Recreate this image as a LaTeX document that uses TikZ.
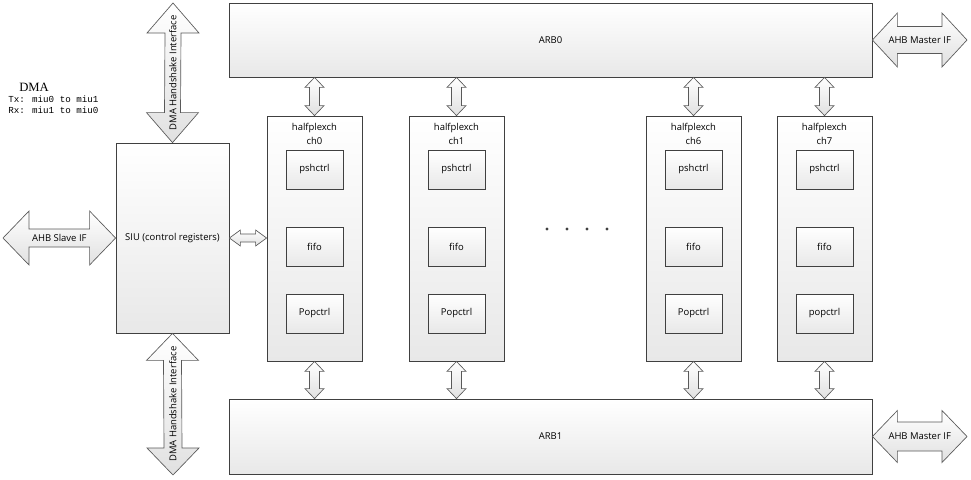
\documentclass[tikz,border=0pt]{standalone}
\usepackage{fontspec}
\setmainfont{Open Sans}
\newfontfamily\dmaserif{Liberation Serif}
\newfontfamily\dmamono{Liberation Mono}
\usetikzlibrary{calc}
\newcommand\vdarrow[5]{% top tip, bottom tip, head half width, shaft half width, head length
  \path[barr] (#1) -- ($(#1)+(#3,#5)$) -- ($(#1)+(#4,#5)$) -- ($(#2)+(#4,-#5)$) -- ($(#2)+(#3,-#5)$) -- (#2)
    -- ($(#2)+(-#3,-#5)$) -- ($(#2)+(-#4,-#5)$) -- ($(#1)+(-#4,#5)$) -- ($(#1)+(-#3,#5)$) -- cycle;}
\newcommand\hdarrow[5]{% left tip, right tip, head half height, shaft half height, head length
  \path[barr] (#1) -- ($(#1)+(#5,-#3)$) -- ($(#1)+(#5,-#4)$) -- ($(#2)+(-#5,-#4)$) -- ($(#2)+(-#5,-#3)$) -- (#2)
    -- ($(#2)+(-#5,#3)$) -- ($(#2)+(-#5,#4)$) -- ($(#1)+(#5,#4)$) -- ($(#1)+(#5,#3)$) -- cycle;}
\begin{document}
\begin{tikzpicture}[x=0.75pt,y=-0.75pt,
  font=\fontsize{7.1}{9}\selectfont,
  sz/.style 2 args={minimum width={#1*0.75pt}, minimum height={#2*0.75pt}},
  blk/.style={draw=black!75, line width=0.6pt, top color=white, bottom color=black!9, inner sep=0pt, rectangle},
  chbox/.style={blk, sz={95}{245}},
  inbox/.style={blk, sz={57}{39}},
  barr/.style={draw=black!65, line width=0.5pt, top color=white, bottom color=black!12},
  lbl/.style={inner sep=0pt, text=black}]
\useasboundingbox (0,0) rectangle (971,479);

% main blocks
\node[blk, sz={643}{74}] (arb0) at (550.5,40) {};
\node[blk, sz={643}{75}] (arb1) at (550.5,436.5) {};
\node[blk, sz={113}{190}] (siu) at (172.5,238) {};
\node[lbl] (arb0t) at (arb0.center) {ARB0};
\node[lbl] (arb1t) at (arb1.center) {ARB1};
\node[lbl] (siut) at (siu.center) {SIU (control registers)};

% channels
\foreach \n/\cx/\pop in {0/314.5/Popctrl, 1/456.5/Popctrl, 6/693.5/Popctrl, 7/824.5/popctrl}{
  \node[chbox] (ch\n) at (\cx,238.5) {};
  \node[lbl, align=center] (ch\n t) at (\cx,134) {halfplexch\\[1pt]ch\n};
  \node[inbox] (psh\n) at (\cx,169.5) {};
  \node[lbl] at (psh\n) {pshctrl};
  \node[inbox] (fifo\n) at (\cx,246.5) {};
  \node[lbl] at (fifo\n) {fifo};
  \node[inbox] (pop\n) at (\cx,313.5) {};
  \node[lbl] at (pop\n) {\pop};
  \coordinate (ta\n) at (arb0.south -| ch\n.north);
  \coordinate (tb\n) at (ch\n.north);
  \coordinate (ba\n) at (ch\n.south);
  \coordinate (bb\n) at (arb1.north -| ch\n.south);
  \vdarrow{ta\n}{tb\n}{9.5}{5}{10}
  \vdarrow{ba\n}{bb\n}{9.5}{5}{10}
}

% dots
\foreach \x [count=\i] in {547,567,587,607}
  \fill[black!75] (\x,229) circle[radius=1.6];

% SIU to ch0
\coordinate (s0) at (siu.east);
\coordinate (s1) at (siu.east -| ch0.west);
\hdarrow{s0}{s1}{8}{4}{11}

% AHB slave IF
\coordinate (slvL) at (3,238);
\coordinate (slvR) at (siu.west);
\hdarrow{slvL}{slvR}{27}{9}{26}
\node[lbl] (slvt) at ($(slvL)!0.5!(slvR)$) {AHB Slave IF};

% AHB master IF (top / bottom)
\coordinate (m0L) at (arb0.east);
\coordinate (m0R) at (967,40);
\hdarrow{m0L}{m0R}{27}{13.5}{25}
\node[lbl] (m0t) at ($(m0L)!0.5!(m0R)$) {AHB Master IF};
\coordinate (m1L) at (arb1.east);
\coordinate (m1R) at (967,436.5);
\hdarrow{m1L}{m1R}{26}{14.5}{25}
\node[lbl] (m1t) at ($(m1L)!0.5!(m1R)$) {AHB Master IF};

% DMA handshake interfaces
\coordinate (h0T) at (173,3);
\coordinate (h0B) at (siu.north);
\vdarrow{h0T}{h0B}{26}{8}{30}
\node[lbl, rotate=90] (h0t) at ($(h0T)!0.5!(h0B)$) {DMA Handshake Interface};
\coordinate (h1T) at (siu.south);
\coordinate (h1B) at (173,475);
\vdarrow{h1T}{h1B}{26}{9}{27}
\node[lbl, rotate=90] (h1t) at ($(h1T)!0.5!(h1B)$) {DMA Handshake Interface};

% DMA notes
\node[lbl, anchor=west, font=\dmaserif\fontsize{9.5}{10}\selectfont] (dma) at (19,87) {DMA};
\node[lbl, anchor=west, font=\dmamono\fontsize{6.9}{8}\selectfont] (tx) at (8,99) {Tx: miu0 to miu1};
\node[lbl, anchor=west, font=\dmamono\fontsize{6.9}{8}\selectfont] (rx) at (8,110.5) {Rx: miu1 to miu0};
\end{tikzpicture}
\end{document}
